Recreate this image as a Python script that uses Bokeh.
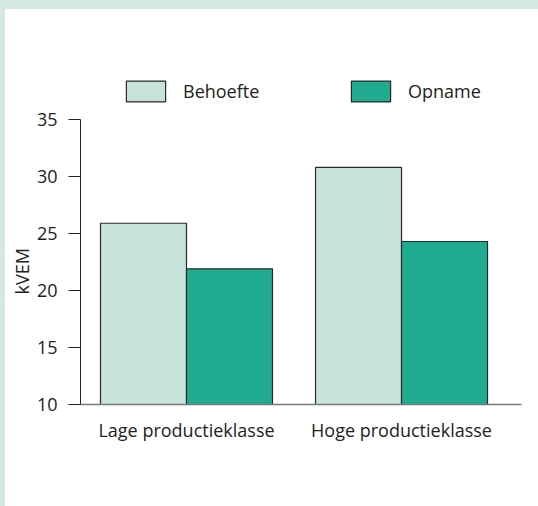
import math
from bokeh.plotting import figure
from bokeh.models import (Range1d, FixedTicker, Legend, LegendItem, LinearAxis,
                          ColumnDataSource, GlobalInlineStyleSheet, Title)
from bokeh.embed import file_html
from bokeh.resources import INLINE

# ---- data ----
categories = ["Lage productieklasse", "Hoge productieklasse"]
series = ["Behoefte", "Opname"]
behoefte = [25.9, 30.8]
opname = [21.9, 24.3]
y_ticks = [10, 15, 20, 25, 30, 35]
y_title = "kVEM"

# ---- style ----
FONT = "Open Sans"
FS = "18px"
TXT = "#222222"
C_BEH = "#c6e2da"
C_OPN = "#20aa8f"
EDGE = "#2a2a2a"
FRAME_GREEN = "#d3e9e1"

y_lo, y_hi = y_ticks[0], y_ticks[-1]
px_per_unit = 285.0 / (y_hi - y_lo)
headroom_px = 49.0               # room above the axis top for the legend
y_top = y_hi + headroom_px / px_per_unit

pos = [i + 1 for i in range(len(categories))]
src = ColumnDataSource(dict(
    x=pos,
    xb=[v - 0.2 for v in pos],
    xo=[v + 0.2 for v in pos],
    b=behoefte,
    o=opname,
))

p = figure(width=533, height=497, output_backend="svg", toolbar_location=None,
           x_range=Range1d(0.507, 2.558), y_range=Range1d(y_lo, y_top),
           min_border_left=75, min_border_right=17,
           min_border_top=61, min_border_bottom=102)
p.yaxis.visible = False

p.stylesheets = [GlobalInlineStyleSheet(css=(
    "html,body{margin:0;padding:0;background:#ffffff;}"
    "body{border-top:9px solid %s;border-left:5px solid %s;}" % (FRAME_GREEN, FRAME_GREEN)))]

p.outline_line_color = None
p.xgrid.visible = False
p.ygrid.visible = False
p.background_fill_color = "white"
p.border_fill_color = "white"

r_b = p.vbar(x="xb", top="b", bottom=y_lo, width=0.4, source=src,
             fill_color=C_BEH, line_color=EDGE, line_width=1.2)
r_o = p.vbar(x="xo", top="o", bottom=y_lo, width=0.4, source=src,
             fill_color=C_OPN, line_color=EDGE, line_width=1.2)

# main y axis (ticks + labels)
ya = LinearAxis(ticker=FixedTicker(ticks=y_ticks), bounds=(y_lo, y_hi))
ya.major_tick_out = 12
ya.major_tick_in = 0
ya.minor_tick_out = 0
ya.minor_tick_in = 0
ya.axis_line_color = TXT
ya.major_tick_line_color = TXT
ya.major_label_standoff = 11
ya.major_label_text_font = FONT
ya.major_label_text_font_size = FS
ya.major_label_text_color = TXT
p.add_layout(ya, "left")

# y title as a side-panel title, started a bit above the axis bottom
p.add_layout(Title(text=y_title, align="left", offset=110, standoff=0,
                   vertical_align="bottom", text_font=FONT,
                   text_font_size=FS, text_font_style="normal",
                   text_color=TXT), "left")

# x axis
xa = p.xaxis[0]
xa.ticker = FixedTicker(ticks=pos)
xa.major_label_overrides = {v: c for v, c in zip(pos, categories)}
xa.major_tick_out = 0
xa.major_tick_in = 0
xa.minor_tick_out = 0
xa.minor_tick_in = 0
xa.axis_line_color = "#7a7a7a"
xa.axis_line_width = 1.5
xa.major_label_standoff = 13
xa.major_label_text_font = FONT
xa.major_label_text_font_size = FS
xa.major_label_text_color = TXT

# legends inside the (extended) frame, above the bars
for rend, name, loc in [(r_b, series[0], (41, 300)), (r_o, series[1], (266, 300))]:
    lg = Legend(items=[LegendItem(label=name, renderers=[rend])],
                location=loc, orientation="horizontal",
                glyph_width=49, glyph_height=26, label_standoff=13,
                padding=0, margin=0, border_line_color=None,
                background_fill_alpha=0,
                label_text_font=FONT, label_text_font_size=FS,
                label_text_color=TXT)
    p.add_layout(lg)

open("out.html", "w").write(file_html(p, INLINE))
